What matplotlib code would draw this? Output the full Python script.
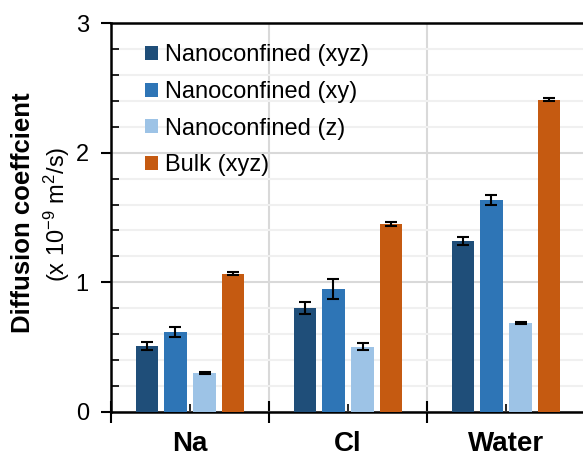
import matplotlib
matplotlib.use("Agg")
import matplotlib.pyplot as plt
import numpy as np
from matplotlib.ticker import MultipleLocator, FixedLocator

plt.rcParams['font.family'] = ['Liberation Sans', 'DejaVu Sans']
plt.rcParams['mathtext.fontset'] = 'custom'
plt.rcParams['mathtext.rm'] = 'Liberation Sans'
plt.rcParams['mathtext.it'] = 'Liberation Sans:italic'
plt.rcParams['mathtext.bf'] = 'Liberation Sans:bold'

categories = ["Na", "Cl", "Water"]
series = ["Nanoconfined (xyz)", "Nanoconfined (xy)", "Nanoconfined (z)", "Bulk (xyz)"]
values = [
    [0.51, 0.80, 1.32],   # Nanoconfined (xyz)
    [0.615, 0.95, 1.635], # Nanoconfined (xy)
    [0.30, 0.505, 0.685], # Nanoconfined (z)
    [1.065, 1.447, 2.41], # Bulk (xyz)
]
errors = [
    [0.03, 0.048, 0.03],
    [0.04, 0.075, 0.042],
    [0.01, 0.03, 0.006],
    [0.012, 0.015, 0.01],
]
colors = ["#1f4e79", "#2e75b6", "#9dc3e6", "#c55a11"]

fig = plt.figure(figsize=(5.83, 4.54), dpi=100)
ax = fig.add_axes([111/583, 42/454, 474/583, 389/454])

x = np.arange(len(categories))
offsets = [-0.272, -0.092, 0.092, 0.272]
width = 0.143
for i in range(4):
    ax.bar(x + offsets[i], values[i], width, color=colors[i], label=series[i], zorder=3)
    ax.errorbar(x + offsets[i], values[i], yerr=errors[i], fmt='none', ecolor='black',
                elinewidth=1.5, capsize=4.5, capthick=1.5, zorder=4)

ax.set_xlim(-0.5, 2.5)
ax.set_ylim(0, 3)

# y ticks
ax.yaxis.set_major_locator(MultipleLocator(1))
ax.yaxis.set_minor_locator(MultipleLocator(0.2))
ax.tick_params(axis='y', which='major', direction='out', length=7, width=1.5, labelsize=17, pad=9)
ax.tick_params(axis='y', which='minor', direction='in', length=6, width=1.2)

# x ticks: boundaries major, category centres minor with labels
ax.xaxis.set_major_locator(FixedLocator([-0.5, 0.5, 1.5]))
ax.xaxis.set_minor_locator(FixedLocator(x))
ax.set_xticklabels([], minor=False)
ax.set_xticks(x, categories, minor=True)
ax.tick_params(axis='x', which='major', direction='inout', length=16, width=1.5, labelbottom=False)
ax.tick_params(axis='x', which='minor', direction='in', length=6, width=1.2, labelsize=20, pad=14)
for t in ax.get_xticklabels(minor=True):
    t.set_fontweight('bold')

# grids
ax.set_axisbelow(True)
ax.yaxis.grid(True, which='major', color='#d9d9d9', linewidth=1.5, zorder=0)
ax.yaxis.grid(True, which='minor', color='#f0f0f0', linewidth=1.5, zorder=0)
ax.xaxis.grid(True, which='major', color='#d9d9d9', linewidth=1.5, zorder=0)

for s in ax.spines.values():
    s.set_linewidth(1.8)
    s.set_color('black')

leg = ax.legend(loc='upper left', bbox_to_anchor=(0.072, 0.945), frameon=False,
                fontsize=17, handlelength=0.55, handleheight=0.55, handletextpad=0.3,
                labelspacing=0.62, borderpad=0, borderaxespad=0)

fig.text(23/583, 1 - 213/454, "Diffusion coeffcient", rotation=90, fontsize=18.5,
         fontweight='bold', ha='center', va='center')
fig.text(57/583, 1 - 214/454, "(x 10$^{-9}$ m$^2$/s)", rotation=90, fontsize=17,
         ha='center', va='center')

fig.savefig("out.png", dpi=100)
